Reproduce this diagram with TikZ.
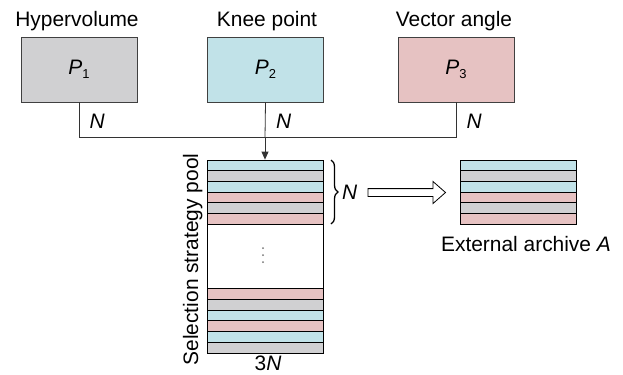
\documentclass[tikz,border=0pt]{standalone}
\usepackage{fontspec}
\setmainfont{Liberation Sans}
\usetikzlibrary{decorations.pathreplacing,arrows.meta}
\definecolor{cgray}{RGB}{208,208,210}
\definecolor{cblue}{RGB}{193,226,232}
\definecolor{cpink}{RGB}{230,194,194}
\newcommand\Psub[1]{\textit{P}\raisebox{-0.4ex}{\fontsize{13}{13}\selectfont #1}}
\begin{document}
\begin{tikzpicture}[x=1bp,y=-1bp,font=\fontsize{21}{25}\selectfont,
  box/.style={draw=black!75,line width=0.8bp,minimum width=116bp,minimum height=65bp,inner sep=0pt},
  stripe/.style={draw=black,line width=0.8bp,minimum width=116bp,minimum height=10.7bp,inner sep=0pt},
  conn/.style={line width=0.8bp,draw=black!80}]
\useasboundingbox (0,0) rectangle (623,374);
% top boxes
\node[box,fill=cgray] (p1) at (79,69.5) {\Psub{1}};
\node[box,fill=cblue] (p2) at (265.5,69.5) {\Psub{2}};
\node[box,fill=cpink] (p3) at (456,69.5) {\Psub{3}};
\node[anchor=base] (l1) at (77,26.5) {Hypervolume};
\node[anchor=base] (l2) at (267,26.5) {Knee point};
\node[anchor=base] (l3) at (454,26.5) {Vector angle};
% pool
\node[draw=black,line width=0.8bp,minimum width=116bp,minimum height=193bp,inner sep=0pt] (pool) at (265,256.5) {};
\foreach \c [count=\i from 0] in {cblue,cgray,cblue,cpink,cgray,cpink}
  \node[stripe,fill=\c] (t\i) at (265,165.35+\i*10.7) {};
\foreach \c [count=\i from 0] in {cpink,cgray,cblue,cpink,cblue,cgray}
  \node[stripe,fill=\c] (b\i) at (265,293.9+\i*10.75) {};
\foreach \yy in {248,255,262} \fill[black!55] (263,\yy) circle (1bp);
\node[rotate=90,anchor=base] (plabel) at (198,259.5) {Selection strategy pool};
\node[anchor=base,inner sep=1pt] (three) at (268,370.5) {3\textit{N}};
% connectors
\coordinate (j) at (265,137.5);
\draw[conn] (p1.south) -- (p1.south |- j) -- (p3.south |- j) -- (p3.south);
\draw[conn] (p2.south) -- (j);
\draw[conn,-{Triangle[length=8bp,width=7bp]}] (j) -- (pool.north);
\node[anchor=base west] (n1) at (86,128) {\textit{N}};
\node[anchor=base west] (n2) at (272.5,128) {\textit{N}};
\node[anchor=base west] (n3) at (463,128) {\textit{N}};
% brace
\draw[decorate,decoration={brace,amplitude=7bp,aspect=0.5},line width=1.3bp] (331,160) -- (331,224);
\node[anchor=west,inner sep=0pt] (bn) at (342,192) {\textit{N}};
% open arrow
\draw[line width=0.8bp,fill=white] (368,188.6) -- (433,188.6) -- (433,181.5) -- (445.5,192.5) -- (433,203.5) -- (433,196.4) -- (368,196.4) -- cycle;
% archive
\foreach \c [count=\i from 0] in {cblue,cgray,cblue,cpink,cgray,cpink}
  \node[stripe,fill=\c] (a\i) at (518.5,165.35+\i*10.7) {};
\node[anchor=base] (alabel) at (526,251.5) {External archive \textit{A}};
\end{tikzpicture}
\end{document}
